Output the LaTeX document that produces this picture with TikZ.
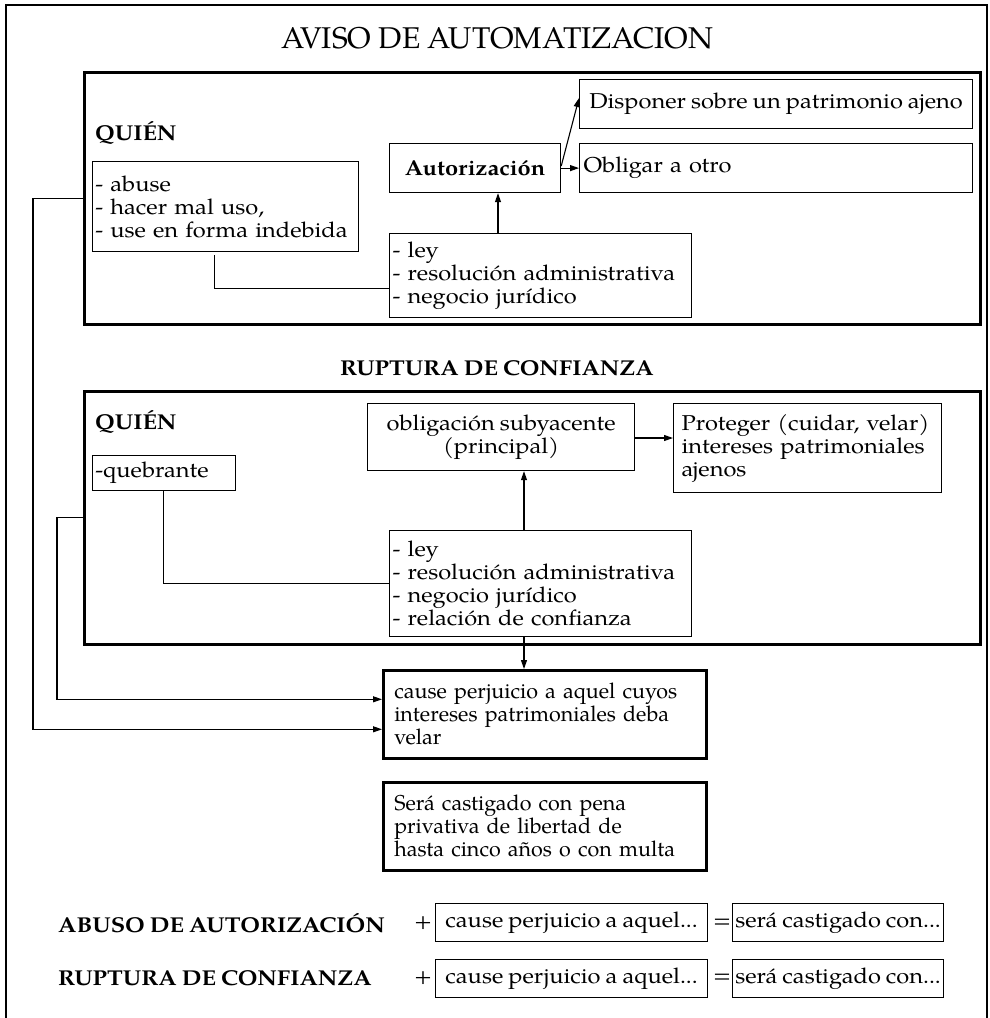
\documentclass[tikz,border=0pt]{standalone}
\usepackage{fontspec}
\setmainfont[FakeStretch=1.1, WordSpace=0.85]{TeX Gyre Pagella}
\newfontfamily\plainfont{TeX Gyre Pagella}
\usetikzlibrary{arrows.meta,calc}
\begin{document}
\begin{tikzpicture}[x=1pt,y=-1pt,
  txt/.style={font=\fontsize{21.5}{23}\selectfont},
  box/.style={draw, line width=1.2pt, anchor=north west, inner xsep=3pt, inner ysep=0pt, align=left, txt},
  tbox/.style={box, line width=2.6pt, inner xsep=11pt, font=\plainfont\fontsize{21.5}{23}\selectfont},
  frame/.style={draw, line width=2.6pt, anchor=north west, inner sep=0pt},
  head/.style={font=\bfseries\fontsize{21.5}{23}\selectfont, inner sep=0pt},
  conn/.style={line width=1.1pt},
  arr/.style={conn, -{Triangle[length=9pt,width=6pt]}}
]
\useasboundingbox (0,0) rectangle (989,1018);
\draw[line width=2pt] (6,1018) -- (6,5) -- (987,5) -- (987,1018);

\node[font=\plainfont\fontsize{30}{30}\selectfont] (title) at (497,38) {AVISO DE AUTOMATIZACION};

% block 1
\node[frame, minimum width=896pt, minimum height=252pt] (b1) at (83,71) {};
\node[head, anchor=west] (q1) at (95,133) {QUIÉN};
\node[box, minimum width=266.5pt, minimum height=90pt, text width=260pt] (abuse) at (91.5,161)
  {- abuse\\- hacer mal uso,\\- use en forma indebida};
\node[box, minimum width=171pt, minimum height=49pt, align=center, font=\bfseries\fontsize{21.5}{23}\selectfont] (aut) at (389,143) {Autorización};
\node[box, minimum width=393pt, minimum height=49pt] (disp) at (579,79) {Disponer sobre un patrimonio ajeno};
\node[box, minimum width=393pt, minimum height=49pt, text width=385pt] (obl) at (579,143) {Obligar a otro};
\node[box, minimum width=302pt, minimum height=84pt, text width=296pt] (ley1) at (389,233)
  {- ley\\- resolución administrativa\\- negocio jurídico};

% block 2
\node[head] (t2) at (497,368) {RUPTURA DE CONFIANZA};
\node[frame, minimum width=896pt, minimum height=253pt] (b2) at (83,390) {};
\node[head, anchor=west] (q2) at (95,422) {QUIÉN};
\node[box, minimum width=143.5pt, minimum height=35pt, text width=137pt] (queb) at (91.5,455) {-quebrante};
\node[box, minimum width=267pt, minimum height=67pt, align=center] (oblig) at (367,403) {obligación subyacente\\(principal)};
\node[box, minimum width=268pt, minimum height=89pt, text width=252pt, inner xsep=8pt] (prot) at (673,403)
  {Proteger (cuidar, velar)\\intereses patrimoniales\\ajenos};
\node[box, minimum width=302pt, minimum height=106pt, text width=296pt] (ley2) at (389,530)
  {- ley\\- resolución administrativa\\- negocio jurídico\\- relación de confianza};

% result boxes
\node[tbox, minimum width=323pt, minimum height=88pt, text width=301pt] (cause) at (382,669)
  {cause perjuicio a aquel cuyos\\intereses patrimoniales deba\\velar};
\node[tbox, minimum width=323pt, minimum height=88pt, text width=301pt] (sera) at (382,781)
  {Será castigado con pena\\privativa de libertad de\\hasta cinco años o con multa};

% summary rows
\node[head, anchor=west] (r1) at (58,923) {ABUSO DE AUTORIZACIÓN};
\node[txt, inner sep=0pt] (p1) at (423,923) {+};
\node[box, minimum width=272pt, minimum height=38pt, inner xsep=2pt] (c1) at (435,903) {cause perjuicio a aquel...};
\node[txt, inner sep=0pt] (e1) at (722,923) {=};
\node[box, minimum width=211pt, minimum height=38pt, inner xsep=1pt] (s1) at (732,903) {será castigado con...};

\node[head, anchor=west] (r2) at (58,978) {RUPTURA DE CONFIANZA};
\node[txt, inner sep=0pt] (p2) at (423,978) {+};
\node[box, minimum width=272pt, minimum height=38pt, inner xsep=2pt] (c2) at (435,959) {cause perjuicio a aquel...};
\node[txt, inner sep=0pt] (e2) at (722,978) {=};
\node[box, minimum width=211pt, minimum height=38pt, inner xsep=1pt] (s2) at (732,959) {será castigado con...};

% connectors
\coordinate (xa) at (498,0);
\coordinate (xb) at (524,0);
\coordinate (xl1) at (33,0);
\coordinate (xl2) at (57,0);
\draw[arr] (ley1.north -| xa) -- (aut.south -| xa);
\draw[arr] ([yshift=2pt]aut.east) -- ([yshift=6pt]disp.west);
\draw[arr] (aut.east) -- (obl.west);
\draw[conn] ([xshift=-11pt,yshift=-3pt]abuse.south) |- ([yshift=-13pt]ley1.west);
\draw[conn] (queb.south) |- (ley2.west);
\draw[arr] (ley2.north -| xb) -- (oblig.south -| xb);
\draw[arr] (oblig.east |- 0,438) -- (prot.west |- 0,438);
\draw[arr] (ley2.south -| xb) -- (cause.north -| xb);
\draw[arr] (b1.west) -- (b1.west -| xl1) |- ([yshift=-15pt]cause.west);
\draw[arr] (b2.west) -- (b2.west -| xl2) |- ([yshift=15pt]cause.west);
\end{tikzpicture}
\end{document}
